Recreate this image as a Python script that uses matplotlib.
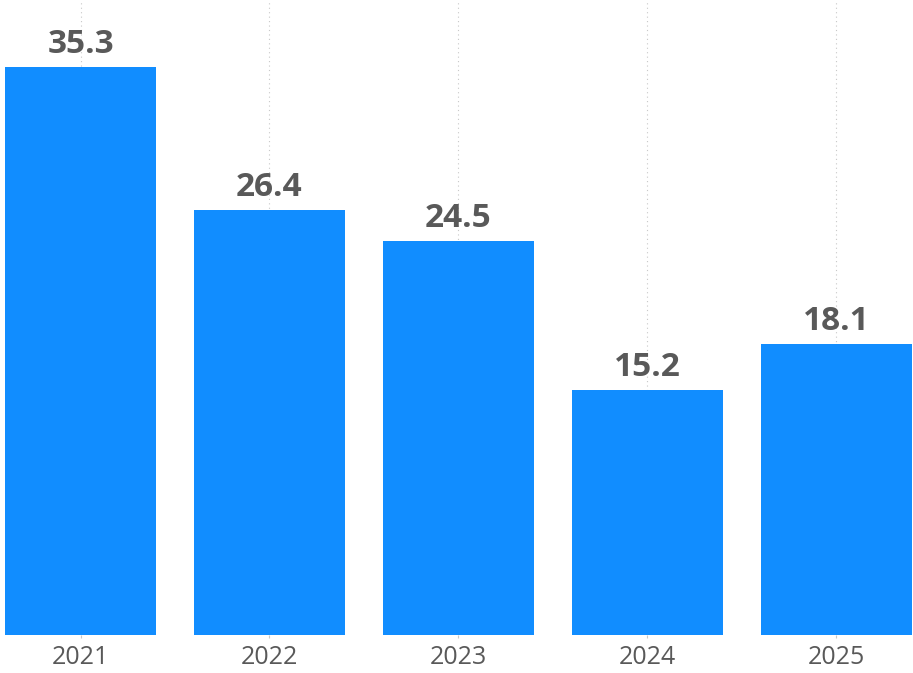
import matplotlib
matplotlib.use("Agg")
import matplotlib.pyplot as plt

years = ["2021", "2022", "2023", "2024", "2025"]
values = [35.3, 26.4, 24.5, 15.2, 18.1]
labels = ["35.3", "26.4", "24.5", "15.2", "18.1"]

BAR = "#118DFF"
TXT = "#595959"

fig = plt.figure(figsize=(9.13, 6.73), dpi=100)
ax = fig.add_axes([0, 38 / 673, 1, 635 / 673])
x = list(range(len(years)))
ax.bar(x, values, width=0.8, color=BAR, zorder=2, linewidth=0)
ax.set_xlim(-0.426, 4.405)
ax.set_ylim(0, 39.46)

for xi, v, lab in zip(x, values, labels):
    ax.annotate(lab, (xi, v), xytext=(0, 14), textcoords="offset pixels",
                ha="center", va="baseline", fontsize=24, fontweight="bold",
                color=TXT, family="Open Sans", zorder=3)

ax.set_xticks(x)
ax.set_xticklabels(years, fontsize=18, color=TXT, family="Open Sans")
ax.tick_params(axis="x", length=2, width=0.8, color="#c8c8c8", pad=5.5)
ax.set_yticks([])
for s in ax.spines.values():
    s.set_visible(False)
ax.grid(axis="x", linestyle=(0, (1, 3)), color="#c8c8c8", linewidth=0.8, zorder=0)
ax.set_axisbelow(True)

fig.savefig("out.png", dpi=100)
